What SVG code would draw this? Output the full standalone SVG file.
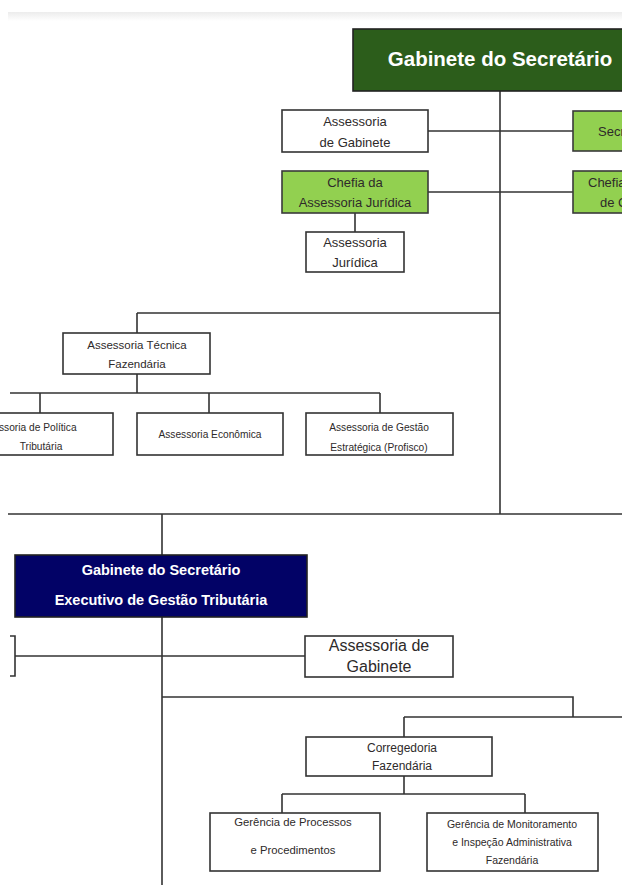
<svg xmlns="http://www.w3.org/2000/svg" width="622" height="885" viewBox="0 0 622 885">
<defs>
<linearGradient id="band" x1="0" y1="0" x2="0" y2="1">
<stop offset="0" stop-color="#ececec"/>
<stop offset="1" stop-color="#ffffff"/>
</linearGradient>
</defs>
<style>
.box{fill:#ffffff;stroke:#333333;stroke-width:1.6}
.lg{fill:#92d050;stroke:#3a3a3a;stroke-width:1.6}
.dg{fill:#2c5d1b;stroke:#222222;stroke-width:1.6}
.nv{fill:#020266;stroke:#222222;stroke-width:1.6}
.ln{fill:none;stroke:#333333;stroke-width:1.6}
text{font-family:"Liberation Sans",Arial,sans-serif;fill:#2e2a2a;text-anchor:middle}
.w{fill:#ffffff;font-weight:bold}
.st{text-anchor:start}
</style>
<rect width="622" height="885" fill="#ffffff"/>
<rect x="8" y="12" width="614" height="9" fill="url(#band)"/>

<g id="connectors">
<path class="ln" d="M500 91V514"/>
<path class="ln" d="M428 131H573"/>
<path class="ln" d="M428 192H573"/>
<path class="ln" d="M355 213V232"/>
<path class="ln" d="M137 313H500M137 313V333"/>
<path class="ln" d="M137 374V393M10 393H380M40 393V413M209 393V413M380 393V413"/>
<path class="ln" d="M8 514H622"/>
<path class="ln" d="M162 514V555"/>
<path class="ln" d="M162 617V885"/>
<path class="ln" d="M15 656H305"/>
<path class="ln" d="M10 636H15V676H10"/>
<path class="ln" d="M162 697H573V717M404 717H622M404 717V737"/>
<path class="ln" d="M404 776V794M282 794H525M282 794V813M525 794V813"/>
</g>

<g id="gabinete-secretario">
<rect class="dg" x="353" y="29" width="280" height="62"/>
<text class="w" x="500" y="66" font-size="20.5">Gabinete do Secretário</text>
</g>

<g id="assessoria-gabinete">
<rect class="box" x="282" y="110" width="146" height="42"/>
<text x="355" y="126" font-size="13">Assessoria</text>
<text x="355" y="147" font-size="13">de Gabinete</text>
</g>

<g id="secretaria">
<rect class="lg" x="573" y="111" width="60" height="40"/>
<text class="st" x="598" y="136" font-size="13">Secr</text>
</g>

<g id="chefia-juridica">
<rect class="lg" x="282" y="171" width="146" height="42"/>
<text x="355" y="187" font-size="13">Chefia da</text>
<text x="355" y="207" font-size="13">Assessoria Jurídica</text>
</g>

<g id="chefia-direita">
<rect class="lg" x="573" y="171" width="60" height="42"/>
<text class="st" x="588" y="187" font-size="13">Chefia</text>
<text class="st" x="600" y="207" font-size="13">de C</text>
</g>

<g id="assessoria-juridica">
<rect class="box" x="306" y="232" width="98" height="40"/>
<text x="355" y="247" font-size="13">Assessoria</text>
<text x="355" y="267" font-size="13">Jurídica</text>
</g>

<g id="assessoria-tecnica">
<rect class="box" x="63" y="333" width="147" height="41"/>
<text x="137" y="349" font-size="11.5">Assessoria Técnica</text>
<text x="137" y="368" font-size="11.5">Fazendária</text>
</g>

<g id="politica-tributaria">
<rect class="box" x="-40" y="413" width="153" height="42"/>
<text class="st" x="-1" y="431" font-size="10.2">ssoria de Política</text>
<text x="41" y="450" font-size="10.2">Tributária</text>
</g>

<g id="assessoria-economica">
<rect class="box" x="137" y="413" width="146" height="42"/>
<text x="210" y="438" font-size="10.2">Assessoria Econômica</text>
</g>

<g id="gestao-estrategica">
<rect class="box" x="306" y="413" width="147" height="42"/>
<text x="379" y="431" font-size="10.2">Assessoria de Gestão</text>
<text x="379" y="451" font-size="10.2">Estratégica (Profisco)</text>
</g>

<g id="gabinete-executivo">
<rect class="nv" x="15" y="555" width="292" height="62"/>
<text class="w" x="161" y="575" font-size="14.5">Gabinete do Secretário</text>
<text class="w" x="161" y="605" font-size="14.5">Executivo de Gestão Tributária</text>
</g>

<g id="assessoria-gabinete-2">
<rect class="box" x="305" y="636" width="148" height="41"/>
<text x="379" y="651" font-size="16">Assessoria de</text>
<text x="379" y="672" font-size="16">Gabinete</text>
</g>

<g id="corregedoria">
<rect class="box" x="306" y="737" width="186" height="39"/>
<text x="402" y="752" font-size="12">Corregedoria</text>
<text x="402" y="770" font-size="12">Fazendária</text>
</g>

<g id="gerencia-processos">
<rect class="box" x="210" y="813" width="170" height="58"/>
<text x="293" y="826" font-size="11.3">Gerência de Processos</text>
<text x="293" y="854" font-size="11.3">e Procedimentos</text>
</g>

<g id="gerencia-monitoramento">
<rect class="box" x="427" y="813" width="171" height="58"/>
<text x="512" y="828" font-size="10.5">Gerência de Monitoramento</text>
<text x="512" y="846" font-size="10.5">e Inspeção Administrativa</text>
<text x="512" y="864" font-size="10.5">Fazendária</text>
</g>
</svg>
